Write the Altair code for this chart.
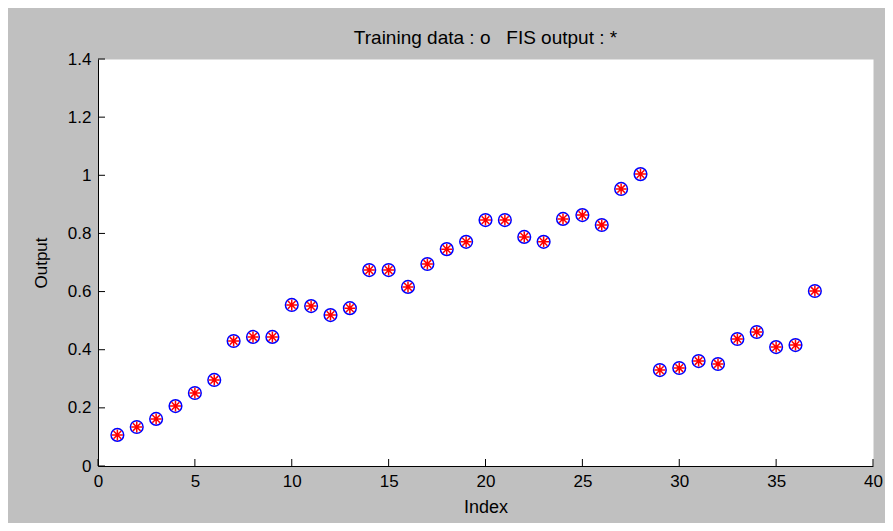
import altair as alt
import pandas as pd

index = list(range(1, 38))
training = [0.107, 0.134, 0.162, 0.206, 0.251, 0.296, 0.430, 0.444, 0.444, 0.554,
            0.550, 0.519, 0.543, 0.674, 0.674, 0.616, 0.695, 0.746, 0.771, 0.846,
            0.846, 0.788, 0.771, 0.850, 0.863, 0.829, 0.953, 1.004, 0.330, 0.337,
            0.361, 0.351, 0.437, 0.461, 0.409, 0.416, 0.602]
fis_output = list(training)

x_ticks = [0, 5, 10, 15, 20, 25, 30, 35, 40]
y_ticks = [0, 0.2, 0.4, 0.6, 0.8, 1.0, 1.2, 1.4]

FONT = "Liberation Sans, Arial, Helvetica, sans-serif"
W, H = 775, 407

df = pd.DataFrame({"Index": index, "Training": training, "FIS": fis_output})
xt = pd.DataFrame({"Index": x_ticks})
yt = pd.DataFrame({"Training": y_ticks})

xscale = alt.Scale(domain=[0, 40], nice=False, zero=False)
yscale = alt.Scale(domain=[0, 1.4], nice=False, zero=False)

xaxis = alt.Axis(values=x_ticks, title="Index", grid=False, ticks=False,
                 domainColor="black", domainWidth=1, labelColor="black",
                 labelFont=FONT, labelFontSize=17, labelPadding=7,
                 titleFont=FONT, titleFontSize=18, titleFontWeight="normal",
                 titleColor="black", titlePadding=9, labelFlush=False)
yaxis = alt.Axis(values=y_ticks, title="Output", grid=False, ticks=False, format="~g",
                 domainColor="black", domainWidth=1, labelColor="black",
                 labelFont=FONT, labelFontSize=17, labelPadding=7,
                 titleFont=FONT, titleFontSize=17, titleFontWeight="normal",
                 titleColor="black", titlePadding=17, labelFlush=False)

X = alt.X("Index:Q", scale=xscale, axis=xaxis, title="Index")
Y = alt.Y("Training:Q", scale=yscale, axis=yaxis, title="Output")

circles = alt.Chart(df).mark_point(shape="circle", filled=False, color="#0000ff",
                                   strokeWidth=1.5, size=160, opacity=1).encode(x=X, y=Y)

stars = alt.Chart(df).mark_point(
    shape="M-1,0L1,0M0,-1L0,1M-0.7,-0.7L0.7,0.7M-0.7,0.7L0.7,-0.7",
    filled=False, color="#ff0000", strokeWidth=1.5, size=121, opacity=1).encode(
    x=X,
    y=alt.Y("FIS:Q", scale=yscale, axis=yaxis, title="Output"),
)

xticks_layer = alt.Chart(xt).mark_rule(color="black", strokeWidth=1).encode(
    x=X, y=alt.value(H), y2=alt.value(H - 7),
)
yticks_layer = alt.Chart(yt).mark_rule(color="black", strokeWidth=1).encode(
    y=Y, x=alt.value(0), x2=alt.value(7),
)

chart = alt.layer(circles, stars, xticks_layer, yticks_layer).properties(
    width=W, height=H,
    autosize=alt.AutoSizeParams(type="none"),
    padding={"left": 90, "top": 51, "right": 12, "bottom": 57},
    background="#c0c0c0",
    title=alt.TitleParams(text="Training data : o\u00a0\u00a0\u00a0FIS output : *",
                          font=FONT, fontSize=19, fontWeight="normal",
                          color="black", anchor="middle", offset=2),
).configure_view(fill="white", stroke="transparent")

chart.save("out.html", embed_options={"renderer": "svg", "actions": False})
